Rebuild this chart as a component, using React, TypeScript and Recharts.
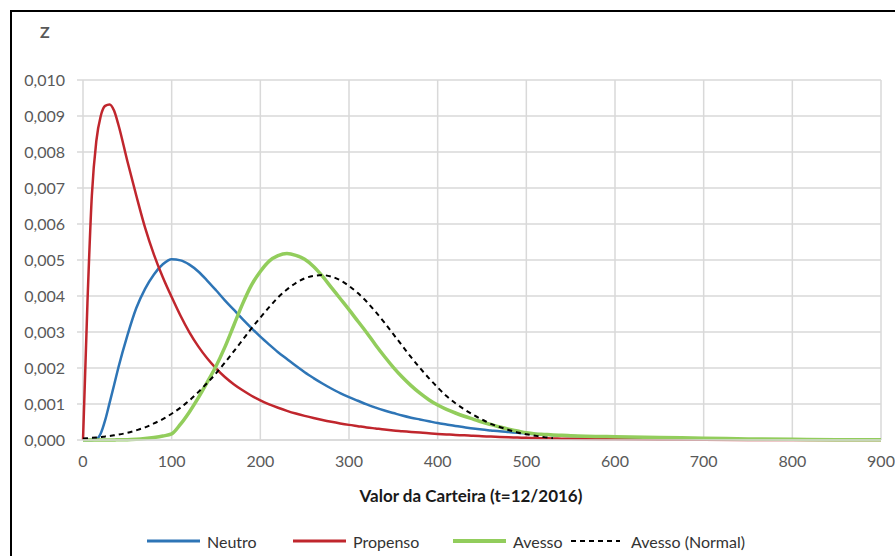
import React from 'react';
import { LineChart, Line, XAxis, YAxis, CartesianGrid } from 'recharts';

// Valor da Carteira (eixo x)
const valores = [
  0, 5, 10, 15, 20, 25, 30, 35, 40,
  50, 60, 70, 80, 90, 100, 110, 120, 130, 140,
  150, 160, 170, 180, 190, 200, 210, 220, 230, 240,
  250, 260, 270, 280, 290, 300, 310, 320, 330, 340,
  350, 360, 370, 380, 390, 400, 410, 420, 430, 440,
  450, 460, 470, 480, 490, 500, 510, 520, 530, 540,
  550, 600, 650, 700, 750, 800, 850, 900,
];

// densidades em milésimos (0,001)
const neutro = [
  0, 0, 0, 0.02, 0.18, 0.55, 1.03, 1.52, 2.02,
  2.9, 3.66, 4.2, 4.6, 4.88, 5.02, 4.99, 4.87, 4.68, 4.43,
  4.16, 3.88, 3.62, 3.36, 3.11, 2.87, 2.65, 2.44, 2.25, 2.06,
  1.88, 1.72, 1.57, 1.43, 1.3, 1.19, 1.09, 0.99, 0.9, 0.82,
  0.75, 0.68, 0.62, 0.57, 0.52, 0.47, 0.43, 0.39, 0.355, 0.32,
  0.29, 0.265, 0.24, 0.22, 0.2, 0.18, 0.165, 0.15, 0.135, 0.12,
  0.11, 0.07, 0.05, 0.03, 0.02, 0.015, 0.01, 0.01,
];

const propenso = [
  0, 3.8, 6.8, 8.3, 9.0, 9.28, 9.32, 9.15, 8.75,
  7.75, 6.8, 5.9, 5.15, 4.52, 3.97, 3.45, 2.99, 2.6, 2.27,
  1.99, 1.75, 1.55, 1.38, 1.23, 1.1, 0.99, 0.895, 0.81, 0.735,
  0.67, 0.61, 0.555, 0.505, 0.46, 0.42, 0.385, 0.35, 0.32, 0.29,
  0.265, 0.245, 0.225, 0.205, 0.185, 0.17, 0.155, 0.14, 0.13, 0.115,
  0.105, 0.095, 0.085, 0.075, 0.068, 0.06, 0.054, 0.048, 0.043, 0.038,
  0.033, 0.018, 0.01, 0.005, 0.002, 0, 0, 0,
];

const avesso = [
  0, 0, 0, 0, 0, 0, 0, 0, 0.01,
  0.01, 0.02, 0.04, 0.07, 0.11, 0.17, 0.44, 0.78, 1.17, 1.6,
  2.05, 2.58, 3.18, 3.78, 4.3, 4.68, 4.97, 5.12, 5.18, 5.13,
  5.02, 4.82, 4.55, 4.24, 3.93, 3.62, 3.3, 2.98, 2.64, 2.32,
  2.02, 1.75, 1.51, 1.3, 1.12, 0.97, 0.85, 0.75, 0.66, 0.58,
  0.5, 0.43, 0.36, 0.3, 0.25, 0.2, 0.17, 0.155, 0.14, 0.13,
  0.12, 0.09, 0.07, 0.05, 0.03, 0.02, 0.01, 0.01,
];

const avessoNormal = [
  0.04, 0.05, 0.06, 0.07, 0.08, 0.1, 0.11, 0.13, 0.15,
  0.2, 0.27, 0.35, 0.46, 0.58, 0.73, 0.9, 1.1, 1.33, 1.58,
  1.85, 2.15, 2.46, 2.78, 3.1, 3.4, 3.69, 3.96, 4.18, 4.36,
  4.49, 4.56, 4.58, 4.54, 4.44, 4.28, 4.08, 3.84, 3.56, 3.26,
  2.94, 2.62, 2.3, 2.0, 1.72, 1.46, 1.22, 1.02, 0.85, 0.7,
  0.57, 0.45, 0.36, 0.28, 0.21, 0.16, 0.12, 0.08, 0.05, null,
  null, null, null, null, null, null, null, null,
];

const xTicks = [0, 100, 200, 300, 400, 500, 600, 700, 800, 900];
const yTicks = [0, 1, 2, 3, 4, 5, 6, 7, 8, 9, 10];

const data = valores.map((x, i) => ({
  x,
  neutro: neutro[i],
  propenso: propenso[i],
  avesso: avesso[i],
  avessoNormal: avessoNormal[i],
}));

const FONT = 'Lato, "Open Sans", sans-serif';
const GRID = '#D9D9D9';
const TEXT = '#595959';

const legendItems = [
  { name: 'Neutro', color: '#2E75B6', width: 3, dash: undefined as string | undefined, left: 147 },
  { name: 'Propenso', color: '#C0262D', width: 3, dash: undefined, left: 293 },
  { name: 'Avesso', color: '#92CD5C', width: 4, dash: undefined, left: 453 },
  { name: 'Avesso (Normal)', color: '#000000', width: 2, dash: '5 4', left: 571 },
];

const App: React.FC = () => (
  <div style={{ position: 'absolute', left: 0, top: 0, width: 895, height: 556, overflow: 'hidden', background: '#fff', fontFamily: FONT }}>
    <div style={{ position: 'absolute', left: 10, top: 10, width: 1000, height: 1000, border: '2px solid #000' }} />
    <div style={{ position: 'absolute', left: 0, top: 0 }}>
      <LineChart width={895} height={556} data={data} margin={{ top: 80, right: 14, left: 23, bottom: 54 }}>
        <CartesianGrid stroke={GRID} strokeWidth={1.5} />
        <XAxis
          dataKey="x"
          type="number"
          domain={[0, 900]}
          ticks={xTicks}
          height={62}
          axisLine={{ stroke: GRID, strokeWidth: 1.5 }}
          tickLine={false}
          tickSize={6}
          tickMargin={10}
          tick={{ fill: TEXT, fontSize: 16, fontFamily: FONT }}
          label={{ value: 'Valor da Carteira (t=12/2016)', position: 'insideBottom', offset: 0, dx: -11, fill: '#1a1a1a', fontSize: 17, fontWeight: 700, fontFamily: FONT }}
        />
        <YAxis
          type="number"
          domain={[0, 10]}
          ticks={yTicks}
          width={60}
          axisLine={false}
          tickLine={{ stroke: GRID, strokeWidth: 1.5 }}
          tickSize={6}
          tickMargin={12}
          tick={{ fill: TEXT, fontSize: 16, fontFamily: FONT }}
          tickFormatter={(v: number) => (v / 1000).toFixed(3).replace('.', ',')}
        />
        <Line type="monotone" dataKey="neutro" stroke="#2E75B6" strokeWidth={2.5} dot={false} activeDot={false} isAnimationActive={false} />
        <Line type="monotone" dataKey="propenso" stroke="#C0262D" strokeWidth={2.5} dot={false} activeDot={false} isAnimationActive={false} />
        <Line type="monotone" dataKey="avesso" stroke="#92CD5C" strokeWidth={3.5} dot={false} activeDot={false} isAnimationActive={false} />
        <Line type="monotone" dataKey="avessoNormal" stroke="#000000" strokeWidth={2} strokeDasharray="5 4" dot={false} activeDot={false} connectNulls={false} isAnimationActive={false} />
      </LineChart>
    </div>
    <div style={{ position: 'absolute', left: 40, top: 22, color: TEXT, fontSize: 16, fontWeight: 700 }}>Z</div>
    {legendItems.map((item) => (
      <div key={item.name} style={{ position: 'absolute', left: item.left, top: 531, height: 20, display: 'flex', alignItems: 'center', fontSize: 16, color: '#333' }}>
        <svg width={53} height={8} style={{ marginRight: 7 }}>
          <line x1={0} y1={4} x2={item.dash ? 49 : 53} y2={4} stroke={item.color} strokeWidth={item.width} strokeDasharray={item.dash} />
        </svg>
        <span>{item.name}</span>
      </div>
    ))}
  </div>
);

export default App;
